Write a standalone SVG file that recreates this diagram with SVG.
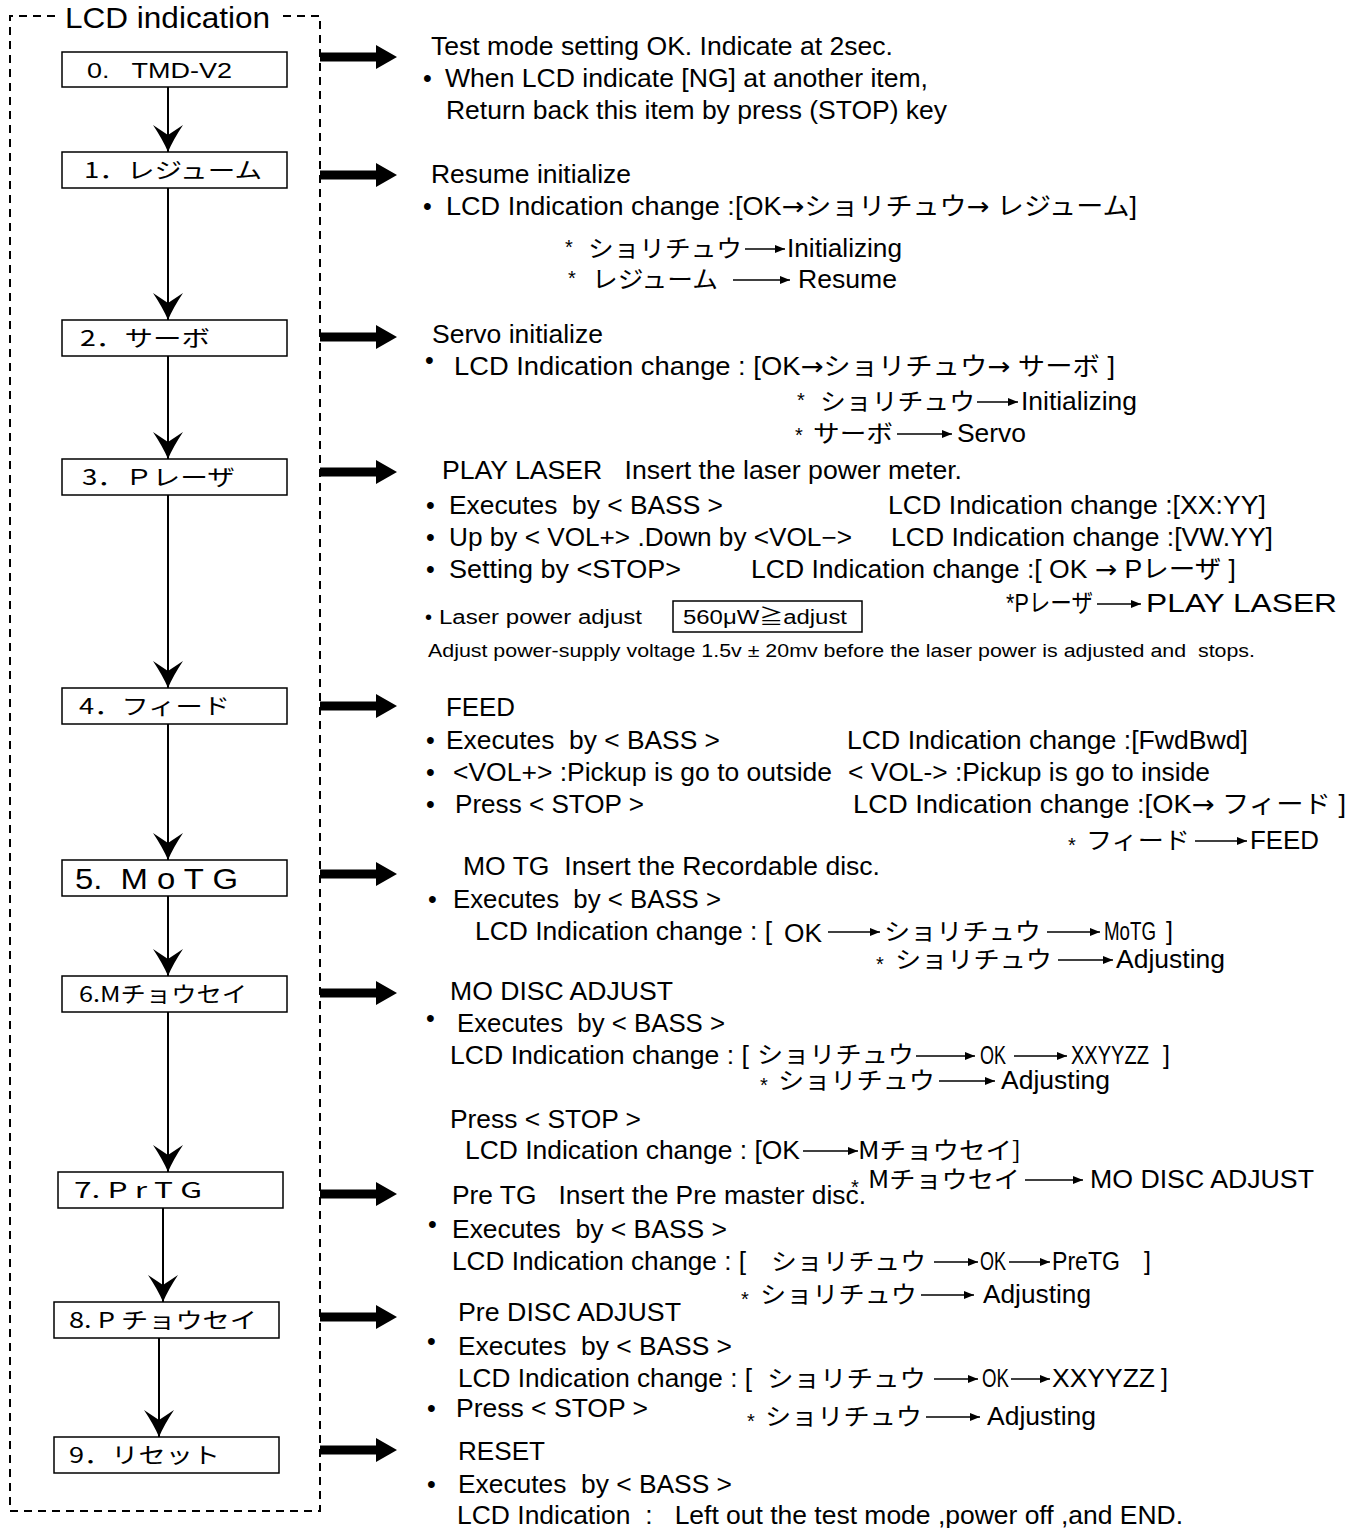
<svg xmlns="http://www.w3.org/2000/svg" xmlns:xlink="http://www.w3.org/1999/xlink" width="1361" height="1528" viewBox="0 0 1361 1528">
<style>
text { font-family: 'Liberation Sans','Noto Sans CJK JP',sans-serif; font-size: 25px; fill: #000; white-space: pre; }
.jp { font-family: 'Noto Sans CJK JP','Liberation Sans',sans-serif; font-size: 24px; }
.lbl { font-size: 22px; }
.ast { font-size: 20px; }
.sm { font-size: 20px; }
.xs { font-size: 18px; }
.arr { font-family: 'DejaVu Sans',sans-serif; }
.box { fill: #fff; stroke: #000; stroke-width: 1.5; }
.frame { fill: none; stroke: #000; stroke-width: 2; stroke-dasharray: 8 6; }
.flow { stroke: #000; stroke-width: 2; fill: none; marker-end: url(#chev); }
.ia { stroke: #000; stroke-width: 1.5; fill: none; marker-end: url(#ah); }
</style>
<defs>
<marker id="chev" viewBox="-28 -16 29 32" refX="0" refY="0" markerWidth="29" markerHeight="32" markerUnits="userSpaceOnUse" orient="auto">
<path d="M0,0 Q-12,-5 -27,-15 Q-21,-6 -17,0 Q-21,6 -27,15 Q-12,5 0,0 Z" fill="#000"/>
</marker>
<marker id="ah" viewBox="0 0 10 8" refX="10" refY="4" markerWidth="10" markerHeight="8" markerUnits="userSpaceOnUse" orient="auto">
<path d="M0,0 L10,4 L0,8 Z" fill="#000"/>
</marker>
<path id="fat" d="M0,-4.5 H56 V-12 L77,0 L56,12 V4.5 H0 Z" fill="#000"/>
</defs>
<rect width="1361" height="1528" fill="#fff"/>

<g id="frame">
<path class="frame" d="M55,16 H10 V1511 H320 V16 H278"/>
<text x="65" y="28" textLength="205" lengthAdjust="spacingAndGlyphs" style="font-size:30px">LCD indication</text>
</g>

<g id="connectors">
<path class="flow" d="M168,87 V152"/>
<path class="flow" d="M168,188 V320"/>
<path class="flow" d="M168,356 V459"/>
<path class="flow" d="M168,495 V688"/>
<path class="flow" d="M168,724 V860"/>
<path class="flow" d="M168,896 V976"/>
<path class="flow" d="M168,1012 V1172"/>
<path class="flow" d="M163,1208 V1302"/>
<path class="flow" d="M159,1338 V1437"/>
<use xlink:href="#fat" x="320" y="57"/>
<use xlink:href="#fat" x="320" y="175"/>
<use xlink:href="#fat" x="320" y="337"/>
<use xlink:href="#fat" x="320" y="472"/>
<use xlink:href="#fat" x="320" y="706"/>
<use xlink:href="#fat" x="320" y="874"/>
<use xlink:href="#fat" x="320" y="993"/>
<use xlink:href="#fat" x="320" y="1194"/>
<use xlink:href="#fat" x="320" y="1317"/>
<use xlink:href="#fat" x="320" y="1450"/>
</g>

<g id="node-0"><rect class="box" x="62" y="52" width="225" height="35"/><text class="lbl" x="87" y="78" textLength="145" lengthAdjust="spacingAndGlyphs">0.   TMD-V2</text></g>
<g id="node-1"><rect class="box" x="62" y="152" width="225" height="36"/><text class="lbl jp" x="84" y="178" textLength="178" lengthAdjust="spacingAndGlyphs" style="font-size:22px">1．レジューム</text></g>
<g id="node-2"><rect class="box" x="62" y="320" width="225" height="36"/><text class="lbl jp" x="80" y="346" textLength="130" lengthAdjust="spacingAndGlyphs" style="font-size:22px">2．サーボ</text></g>
<g id="node-3"><rect class="box" x="62" y="459" width="225" height="36"/><text class="lbl jp" x="82" y="485" textLength="153" lengthAdjust="spacingAndGlyphs" style="font-size:22px">3．Ｐレーザ</text></g>
<g id="node-4"><rect class="box" x="62" y="688" width="225" height="36"/><text class="lbl jp" x="79" y="714" textLength="151" lengthAdjust="spacingAndGlyphs" style="font-size:22px">4．フィード</text></g>
<g id="node-5"><rect class="box" x="62" y="860" width="225" height="36"/><text x="75" y="889" textLength="163" lengthAdjust="spacingAndGlyphs" style="font-size:30px">5.  M o T G</text></g>
<g id="node-6"><rect class="box" x="62" y="976" width="225" height="36"/><text class="lbl jp" x="79" y="1002" textLength="168" lengthAdjust="spacingAndGlyphs" style="font-size:22px">6.Mチョウセイ</text></g>
<g id="node-7"><rect class="box" x="58" y="1172" width="225" height="36"/><text class="lbl jp" x="74" y="1198" textLength="128" lengthAdjust="spacingAndGlyphs" style="font-size:22px">7. P r T G</text></g>
<g id="node-8"><rect class="box" x="54" y="1302" width="225" height="36"/><text class="lbl jp" x="69" y="1328" textLength="188" lengthAdjust="spacingAndGlyphs" style="font-size:22px">8. P チョウセイ</text></g>
<g id="node-9"><rect class="box" x="54" y="1437" width="225" height="36"/><text class="lbl jp" x="69" y="1463" textLength="151" lengthAdjust="spacingAndGlyphs" style="font-size:22px">9．リセット</text></g>

<g id="desc-0">
<text x="431" y="55" textLength="462" lengthAdjust="spacingAndGlyphs">Test mode setting OK. Indicate at 2sec.</text>
<text x="423" y="87">•</text>
<text x="445" y="87" textLength="483" lengthAdjust="spacingAndGlyphs">When LCD indicate [NG] at another item,</text>
<text x="446" y="119" textLength="501" lengthAdjust="spacingAndGlyphs">Return back this item by press (STOP) key</text>
</g>

<g id="desc-1">
<text x="431" y="183" textLength="200" lengthAdjust="spacingAndGlyphs">Resume initialize</text>
<text x="423" y="215">•</text>
<text x="446" y="215" textLength="691" lengthAdjust="spacingAndGlyphs">LCD Indication change :[OK<tspan class="arr">→</tspan>ショリチュウ<tspan class="arr">→</tspan> レジューム]</text>
<text class="ast" x="565" y="254">*</text>
<text class="jp" x="588" y="257" textLength="154" lengthAdjust="spacingAndGlyphs">ショリチュウ</text>
<path class="ia" d="M745,249 H785"/>
<text x="787" y="257" textLength="115" lengthAdjust="spacingAndGlyphs">Initializing</text>
<text class="ast" x="568" y="285">*</text>
<text class="jp" x="592" y="288" textLength="126" lengthAdjust="spacingAndGlyphs">レジューム</text>
<path class="ia" d="M733,280 H790"/>
<text x="798" y="288" textLength="99" lengthAdjust="spacingAndGlyphs">Resume</text>
</g>

<g id="desc-2">
<text x="432" y="343" textLength="171" lengthAdjust="spacingAndGlyphs">Servo initialize</text>
<text x="425" y="369">•</text>
<text x="454" y="375" textLength="661" lengthAdjust="spacingAndGlyphs">LCD Indication change : [OK<tspan class="arr">→</tspan>ショリチュウ<tspan class="arr">→</tspan> サーボ ]</text>
<text class="ast" x="797" y="407">*</text>
<text class="jp" x="820" y="410" textLength="155" lengthAdjust="spacingAndGlyphs">ショリチュウ</text>
<path class="ia" d="M977,402 H1018"/>
<text x="1021" y="410" textLength="116" lengthAdjust="spacingAndGlyphs">Initializing</text>
<text class="ast" x="795" y="442">*</text>
<text class="jp" x="813" y="442" textLength="80" lengthAdjust="spacingAndGlyphs">サーボ</text>
<path class="ia" d="M897,434 H952"/>
<text x="957" y="442" textLength="69" lengthAdjust="spacingAndGlyphs">Servo</text>
</g>

<g id="desc-3">
<text x="442" y="479" textLength="520" lengthAdjust="spacingAndGlyphs">PLAY LASER   Insert the laser power meter.</text>
<text x="426" y="514">•</text>
<text x="449" y="514" textLength="274" lengthAdjust="spacingAndGlyphs">Executes  by &lt; BASS &gt;</text>
<text x="888" y="514" textLength="378" lengthAdjust="spacingAndGlyphs">LCD Indication change :[XX:YY]</text>
<text x="426" y="546">•</text>
<text x="449" y="546" textLength="403" lengthAdjust="spacingAndGlyphs">Up by &lt; VOL+&gt; .Down by &lt;VOL−&gt;</text>
<text x="891" y="546" textLength="382" lengthAdjust="spacingAndGlyphs">LCD Indication change :[VW.YY]</text>
<text x="426" y="578">•</text>
<text x="449" y="578" textLength="232" lengthAdjust="spacingAndGlyphs">Setting by &lt;STOP&gt;</text>
<text x="751" y="578" textLength="485" lengthAdjust="spacingAndGlyphs">LCD Indication change :[ OK <tspan class="arr">→</tspan> Pレーザ ]</text>
<text x="1006" y="612" textLength="87" lengthAdjust="spacingAndGlyphs">*Pレーザ</text>
<path class="ia" d="M1097,604 H1141"/>
<text x="1146" y="612" textLength="191" lengthAdjust="spacingAndGlyphs">PLAY LASER</text>
<text class="sm" x="425" y="624">•</text>
<text class="sm" x="439" y="624" textLength="203" lengthAdjust="spacingAndGlyphs">Laser power adjust</text>
<rect class="box" x="673" y="601" width="189" height="31"/>
<text class="sm" x="683" y="624" textLength="164" lengthAdjust="spacingAndGlyphs">560μW≧adjust</text>
<text class="xs" x="428" y="657" textLength="827" lengthAdjust="spacingAndGlyphs">Adjust power-supply voltage 1.5v ± 20mv before the laser power is adjusted and  stops.</text>
</g>

<g id="desc-4">
<text x="446" y="716" textLength="69" lengthAdjust="spacingAndGlyphs">FEED</text>
<text x="426" y="749">•</text>
<text x="446" y="749" textLength="274" lengthAdjust="spacingAndGlyphs">Executes  by &lt; BASS &gt;</text>
<text x="847" y="749" textLength="401" lengthAdjust="spacingAndGlyphs">LCD Indication change :[FwdBwd]</text>
<text x="426" y="781">•</text>
<text x="453" y="781" textLength="379" lengthAdjust="spacingAndGlyphs">&lt;VOL+&gt; :Pickup is go to outside</text>
<text x="848" y="781" textLength="362" lengthAdjust="spacingAndGlyphs">&lt; VOL-&gt; :Pickup is go to inside</text>
<text x="426" y="813">•</text>
<text x="455" y="813" textLength="189" lengthAdjust="spacingAndGlyphs">Press &lt; STOP &gt;</text>
<text x="853" y="813" textLength="493" lengthAdjust="spacingAndGlyphs">LCD Indication change :[OK<tspan class="arr">→</tspan> フィード ]</text>
<text class="ast" x="1068" y="852">*</text>
<text class="jp" x="1086" y="849" textLength="104" lengthAdjust="spacingAndGlyphs">フィード</text>
<path class="ia" d="M1195,841 H1247"/>
<text x="1250" y="849" textLength="69" lengthAdjust="spacingAndGlyphs">FEED</text>
</g>

<g id="desc-5">
<text x="463" y="875" textLength="417" lengthAdjust="spacingAndGlyphs">MO TG  Insert the Recordable disc.</text>
<text x="428" y="908">•</text>
<text x="453" y="908" textLength="268" lengthAdjust="spacingAndGlyphs">Executes  by &lt; BASS &gt;</text>
<text x="475" y="940" textLength="297" lengthAdjust="spacingAndGlyphs">LCD Indication change : [</text>
<text x="784" y="942" textLength="38" lengthAdjust="spacingAndGlyphs">OK</text>
<path class="ia" d="M828,932 H880"/>
<text class="jp" x="884" y="940" textLength="157" lengthAdjust="spacingAndGlyphs">ショリチュウ</text>
<path class="ia" d="M1047,932 H1100"/>
<text x="1104" y="940" textLength="52" lengthAdjust="spacingAndGlyphs">MoTG</text>
<text x="1166" y="940">]</text>
<text class="ast" x="876" y="971">*</text>
<text class="jp" x="895" y="968" textLength="157" lengthAdjust="spacingAndGlyphs">ショリチュウ</text>
<path class="ia" d="M1058,960 H1113"/>
<text x="1116" y="968" textLength="109" lengthAdjust="spacingAndGlyphs">Adjusting</text>
</g>

<g id="desc-6">
<text x="450" y="1000" textLength="223" lengthAdjust="spacingAndGlyphs">MO DISC ADJUST</text>
<text x="426" y="1027">•</text>
<text x="457" y="1032" textLength="268" lengthAdjust="spacingAndGlyphs">Executes  by &lt; BASS &gt;</text>
<text x="450" y="1064" textLength="299" lengthAdjust="spacingAndGlyphs">LCD Indication change : [</text>
<text class="jp" x="757" y="1063" textLength="157" lengthAdjust="spacingAndGlyphs">ショリチュウ</text>
<path class="ia" d="M916,1056 H975"/>
<text x="980" y="1064" textLength="26" lengthAdjust="spacingAndGlyphs">OK</text>
<path class="ia" d="M1014,1056 H1067"/>
<text x="1071" y="1064" textLength="78" lengthAdjust="spacingAndGlyphs">XXYYZZ</text>
<text x="1163" y="1064">]</text>
<text class="ast" x="760" y="1092">*</text>
<text class="jp" x="778" y="1089" textLength="157" lengthAdjust="spacingAndGlyphs">ショリチュウ</text>
<path class="ia" d="M939,1081 H995"/>
<text x="1001" y="1089" textLength="109" lengthAdjust="spacingAndGlyphs">Adjusting</text>
<text x="450" y="1128" textLength="191" lengthAdjust="spacingAndGlyphs">Press &lt; STOP &gt;</text>
<text x="465" y="1159" textLength="335" lengthAdjust="spacingAndGlyphs">LCD Indication change : [OK</text>
<path class="ia" d="M803,1151 H858"/>
<text class="jp" x="858" y="1159" textLength="163" lengthAdjust="spacingAndGlyphs">Mチョウセイ]</text>
<text class="ast" x="851" y="1194">*</text>
<text class="jp" x="868" y="1188" textLength="152" lengthAdjust="spacingAndGlyphs">Mチョウセイ</text>
<path class="ia" d="M1025,1180 H1083"/>
<text x="1090" y="1188" textLength="224" lengthAdjust="spacingAndGlyphs">MO DISC ADJUST</text>
</g>

<g id="desc-7">
<text x="452" y="1204" textLength="414" lengthAdjust="spacingAndGlyphs">Pre TG   Insert the Pre master disc.</text>
<text x="428" y="1233">•</text>
<text x="452" y="1238" textLength="275" lengthAdjust="spacingAndGlyphs">Executes  by &lt; BASS &gt;</text>
<text x="452" y="1270" textLength="294" lengthAdjust="spacingAndGlyphs">LCD Indication change : [</text>
<text class="jp" x="771" y="1270" textLength="155" lengthAdjust="spacingAndGlyphs">ショリチュウ</text>
<path class="ia" d="M934,1262 H978"/>
<text x="980" y="1270" textLength="26" lengthAdjust="spacingAndGlyphs">OK</text>
<path class="ia" d="M1009,1262 H1050"/>
<text x="1052" y="1270" textLength="68" lengthAdjust="spacingAndGlyphs">PreTG</text>
<text x="1144" y="1270">]</text>
<text class="ast" x="741" y="1306">*</text>
<text class="jp" x="760" y="1303" textLength="157" lengthAdjust="spacingAndGlyphs">ショリチュウ</text>
<path class="ia" d="M921,1295 H974"/>
<text x="983" y="1303" textLength="108" lengthAdjust="spacingAndGlyphs">Adjusting</text>
</g>

<g id="desc-8">
<text x="458" y="1321" textLength="223" lengthAdjust="spacingAndGlyphs">Pre DISC ADJUST</text>
<text x="427" y="1350">•</text>
<text x="458" y="1355" textLength="274" lengthAdjust="spacingAndGlyphs">Executes  by &lt; BASS &gt;</text>
<text x="458" y="1387" textLength="294" lengthAdjust="spacingAndGlyphs">LCD Indication change : [</text>
<text class="jp" x="767" y="1387" textLength="159" lengthAdjust="spacingAndGlyphs">ショリチュウ</text>
<path class="ia" d="M934,1379 H978"/>
<text x="982" y="1387" textLength="27" lengthAdjust="spacingAndGlyphs">OK</text>
<path class="ia" d="M1011,1379 H1050"/>
<text x="1052" y="1387" textLength="103" lengthAdjust="spacingAndGlyphs">XXYYZZ</text>
<text x="1161" y="1387">]</text>
<text x="427" y="1417">•</text>
<text x="456" y="1417" textLength="192" lengthAdjust="spacingAndGlyphs">Press &lt; STOP &gt;</text>
<text class="ast" x="747" y="1428">*</text>
<text class="jp" x="765" y="1425" textLength="157" lengthAdjust="spacingAndGlyphs">ショリチュウ</text>
<path class="ia" d="M926,1417 H980"/>
<text x="987" y="1425" textLength="109" lengthAdjust="spacingAndGlyphs">Adjusting</text>
</g>

<g id="desc-9">
<text x="458" y="1460" textLength="87" lengthAdjust="spacingAndGlyphs">RESET</text>
<text x="427" y="1493">•</text>
<text x="458" y="1493" textLength="274" lengthAdjust="spacingAndGlyphs">Executes  by &lt; BASS &gt;</text>
<text x="457" y="1524" textLength="726" lengthAdjust="spacingAndGlyphs">LCD Indication  :   Left out the test mode ,power off ,and END.</text>
</g>
</svg>
